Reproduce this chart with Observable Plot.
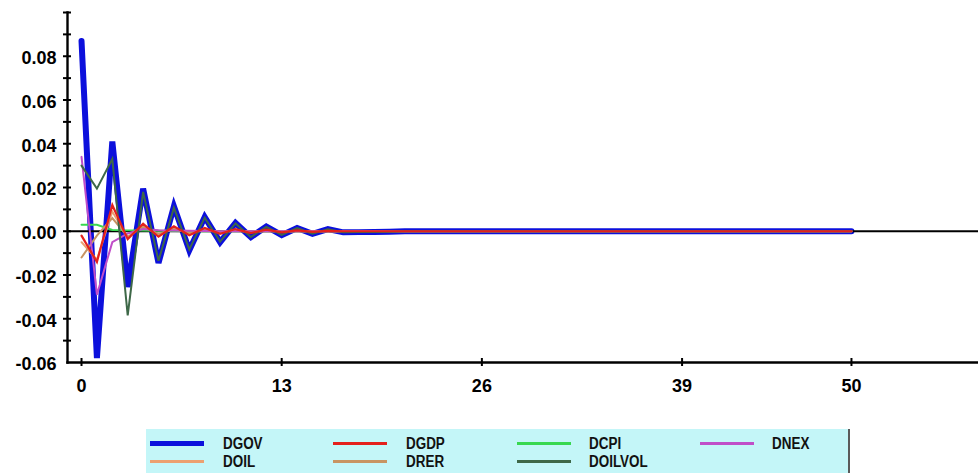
<!DOCTYPE html>
<html><head><meta charset="utf-8">
<script src="https://cdn.jsdelivr.net/npm/d3@7"></script>
<script src="https://cdn.jsdelivr.net/npm/@observablehq/plot@0.6"></script>
<style>
body{margin:0;background:#fff;}
#wrap{position:relative;width:978px;height:473px;overflow:hidden;background:#fff;}
#legend{position:absolute;left:146px;top:429px;width:702px;height:46px;background:#c4f6f8;border-right:2px solid #5a5a5a;
  font-family:"Liberation Sans",Arial,sans-serif;font-weight:bold;font-size:16px;color:#111;}
.sw{position:absolute;width:54px;}
.lb{position:absolute;line-height:18px;white-space:nowrap;transform:scaleX(0.84);transform-origin:0 50%;}
svg{display:block}
</style></head>
<body><div id="wrap"><div id="chart"></div><div id="legend"></div></div>
<script>
const lags = d3.range(0, 51);
const seriesNames = ["DGOV","DGDP","DCPI","DNEX","DOIL","DRER","DOILVOL"];
const DGOV = [0.087,-0.058,0.041,-0.0255,0.0195,-0.0145,0.0114,-0.0087,0.0065,-0.005,0.0038,-0.0027,0.0022,-0.0018,0.0015,-0.0012,0.001,-0.0005,-0.0004,-0.0003,-0.0002,
  0,0,0,0,0,0,0,0,0,0,0,0,0,0,0,0,0,0,0,0,0,0,0,0,0,0,0,0,0,0];
const DGDP = [-0.002,-0.014,0.012,-0.0036,0.0034,-0.0025,0.0023,-0.0018,0.0015,-0.0012,0.001,-0.0008,0.0007,-0.0005,0.0004,-0.0003,0.0002,0,0,0,0,
  0,0,0,0,0,0,0,0,0,0,0,0,0,0,0,0,0,0,0,0,0,0,0,0,0,0,0,0,0,0];
const DCPI = [0.003,0.003,0.0006,0.0004,0.0003,0.0002,0.0001,0,0,0,0,0,0,0,0,0,0,0,0,0,0,
  0,0,0,0,0,0,0,0,0,0,0,0,0,0,0,0,0,0,0,0,0,0,0,0,0,0,0,0,0,0];
const DNEX = [0.034,-0.029,-0.005,-0.001,0.001,0.0005,0.0003,0.0002,0.0001,0,0,0,0,0,0,0,0,0,0,0,0,
  0,0,0,0,0,0,0,0,0,0,0,0,0,0,0,0,0,0,0,0,0,0,0,0,0,0,0,0,0,0];
const DOIL = [-0.005,-0.013,0.009,-0.003,0.003,-0.002,0.0015,-0.0011,0.0008,-0.0006,0.0005,-0.0003,0.0002,-0.0001,0,0,0,0,0,0,0,
  0,0,0,0,0,0,0,0,0,0,0,0,0,0,0,0,0,0,0,0,0,0,0,0,0,0,0,0,0,0];
const DRER = [-0.012,-0.002,0.006,-0.0025,0.002,-0.0012,0.001,-0.0007,0.0005,-0.0003,0.0002,-0.0001,0,0,0,0,0,0,0,0,0,
  0,0,0,0,0,0,0,0,0,0,0,0,0,0,0,0,0,0,0,0,0,0,0,0,0,0,0,0,0,0];
const DOILVOL = [0.030,0.0195,0.033,-0.0385,0.018,-0.0135,0.0108,-0.0083,0.0062,-0.0047,0.0036,-0.0026,0.002,-0.0017,0.0014,-0.0011,0.0009,-0.0005,-0.0004,-0.0003,-0.0002,
  0,0,0,0,0,0,0,0,0,0,0,0,0,0,0,0,0,0,0,0,0,0,0,0,0,0,0,0,0,0];
const xTicks = [0, 13, 26, 39, 50];
const yTicks = [-0.06, -0.04, -0.02, 0.00, 0.02, 0.04, 0.06, 0.08];
const yMinorTicks = [-0.05,-0.04,-0.03,-0.02,-0.01,0,0.01,0.02,0.03,0.04,0.05,0.06,0.07,0.08,0.09,0.10];

const colors = {DGOV:"#0c10dc",DGDP:"#e4201c",DCPI:"#38d850",DNEX:"#c04ec8",DOIL:"#eca070",DRER:"#c89462",DOILVOL:"#3e6848"};
const widths = {DGOV:6,DGDP:2.2,DCPI:2,DNEX:2,DOIL:2,DRER:2,DOILVOL:2};
const valuesByName = {DGOV,DGDP,DCPI,DNEX,DOIL,DRER,DOILVOL};

const lineMark = name =>
  Plot.line(lags.map((l,i)=>({lag:l,value:valuesByName[name][i]})), {x:"lag", y:"value", stroke: colors[name], strokeWidth: widths[name], strokeLinejoin:"miter", strokeMiterlimit: 4});

const axisFont = {fontFamily:"'Liberation Sans', Arial, sans-serif", fontWeight:"bold", fontSize:18};

const plot = Plot.plot({
  width: 978, height: 420,
  marginLeft: 67, marginRight: 0, marginTop: 12, marginBottom: 58,
  style: {fontFamily:"'Liberation Sans', Arial, sans-serif", fontWeight:"bold", fontSize:"18px", color:"#000", background:"#fff"},
  x: {domain: [-0.91, 58.25]},
  y: {domain: [-0.06, 0.10]},
  marks: [
    lineMark("DGOV"),
    Plot.ruleY([0], {stroke:"#000", strokeWidth:2.2}),
    ...["DCPI","DOIL","DRER","DNEX","DOILVOL","DGDP"].map(lineMark),
    Plot.frame({anchor:"left", stroke:"#000", strokeWidth:2.4}),
    Plot.frame({anchor:"bottom", stroke:"#000", strokeWidth:2.4}),
    Plot.axisY(yMinorTicks, {tickSize: 8, dx: 4, tickFormat: () => "", stroke:"#000", strokeWidth:2, label:null}),
    Plot.axisY(yTicks, {tickSize: 0, tickPadding: 11, dy: 2, tickFormat: d => d.toFixed(2), label:null, fill:"#000", ...axisFont}),
    Plot.axisX(xTicks, {tickSize: 8, dy: -4, tickFormat: () => "", stroke:"#000", strokeWidth:2, label:null}),
    Plot.axisX(xTicks, {tickSize: 0, tickPadding: 17, tickFormat: d => String(d), label:null, fill:"#000", ...axisFont})
  ]
});
document.getElementById("chart").appendChild(plot);

// legend
const legend = document.getElementById("legend");
const legendOrder = ["DGOV","DGDP","DCPI","DNEX","DOIL","DRER","DOILVOL"];
legendOrder.forEach((name, i) => {
  const col = i % 4, row = Math.floor(i / 4);
  const left = 4 + col * 183.3;
  const cy = 14 + row * 18;
  const sw = document.createElement("div");
  sw.className = "sw";
  const h = name === "DGOV" ? 5 : 3;
  sw.style.left = left + "px";
  sw.style.top = (cy - h/2) + "px";
  sw.style.height = h + "px";
  sw.style.background = colors[name];
  legend.appendChild(sw);
  const lb = document.createElement("div");
  lb.className = "lb";
  lb.style.left = (left + 72.5) + "px";
  lb.style.top = (cy - 8) + "px";
  lb.textContent = name;
  legend.appendChild(lb);
});
</script></body></html>
